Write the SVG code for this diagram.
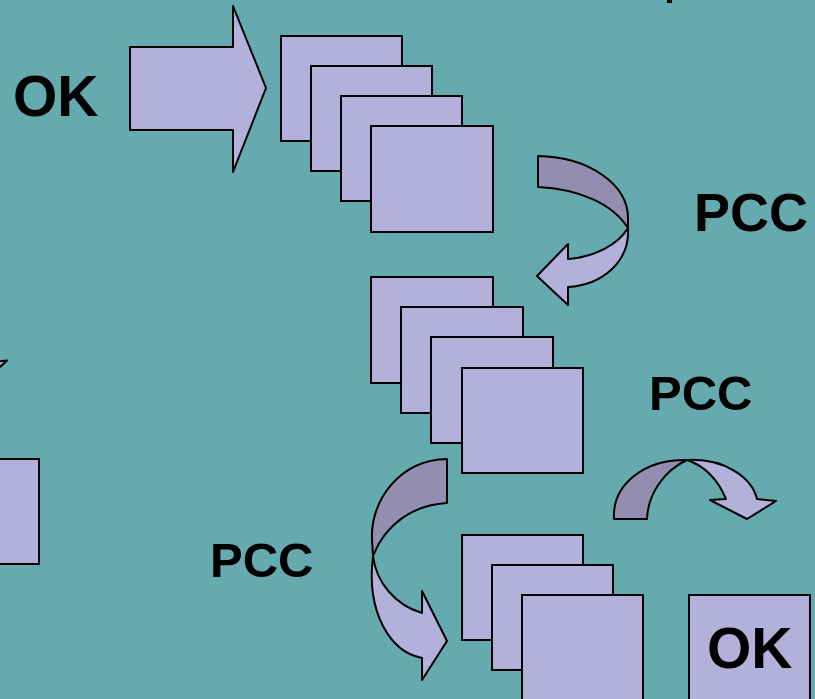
<svg xmlns="http://www.w3.org/2000/svg" width="815" height="699" viewBox="0 0 815 699">
  <style>
    .bg { fill: #65aaae; }
    .card { fill: #b3b1d9; stroke: #000; stroke-width: 2; }
    .front { fill: #b3b1d9; stroke: #000; stroke-width: 2; stroke-linejoin: round; }
    .back { fill: #938eb0; stroke: #000; stroke-width: 2; stroke-linejoin: round; }
    .lbl { font-family: "Liberation Sans", Arial, sans-serif; font-weight: bold; fill: #000; }
    .big { font-size: 57px; }
    .mid { font-size: 54px; }
    .small { font-size: 49px; }
  </style>
  <rect class="bg" x="0" y="0" width="815" height="699"/>

  <!-- fragment at the top edge -->
  <rect x="667" y="0" width="5" height="3" fill="#000"/>

  <g id="label-ok-start">
    <text class="lbl big" x="13" y="116">OK</text>
  </g>

  <g id="start-arrow">
    <polygon class="front" points="130,47 233,47 233,6 266,88 233,172 233,130 130,130"/>
  </g>

  <g id="stack-1">
    <rect class="card" x="281" y="36" width="121" height="105"/>
    <rect class="card" x="311" y="66" width="121" height="105"/>
    <rect class="card" x="341" y="96" width="121" height="105"/>
    <rect class="card" x="371" y="126" width="122" height="106"/>
  </g>

  <g id="stack-2">
    <rect class="card" x="371" y="277" width="122" height="106"/>
    <rect class="card" x="401" y="307" width="122" height="106"/>
    <rect class="card" x="431" y="337" width="122" height="106"/>
    <rect class="card" x="462" y="368" width="121" height="105"/>
  </g>

  <g id="stack-3">
    <rect class="card" x="462" y="535" width="121" height="105"/>
    <rect class="card" x="492" y="565" width="121" height="105"/>
    <rect class="card" x="522" y="595" width="121" height="110"/>
  </g>

  <g id="ok-box">
    <rect class="card" x="689" y="595" width="121" height="110"/>
    <text class="lbl big" x="707" y="668">OK</text>
  </g>

  <g id="left-box">
    <rect class="card" x="-10" y="459" width="49" height="105"/>
    <polygon class="front" points="-2,361.5 7,360.5 0,367"/>
  </g>

  <g id="labels">
    <text class="lbl mid" x="694" y="231">PCC</text>
    <text class="lbl small" x="649" y="410">PCC</text>
    <text class="lbl small" x="210" y="577">PCC</text>
  </g>

  <g id="connectors">
    <!-- stack 1 to stack 2: curls right, then back left -->
    <path class="front" d="M628,228 C630,262 602,285 568,287 L568,305 L537,276 L568,244 L568,259 C594,257 618,245 628,228 Z"/>
    <path class="back" d="M538,156 C590,157 628,185 628,218 L628,228 C612,203 578,189 538,187 Z"/>

    <!-- stack 2 to stack 3: curls left, then down to the right -->
    <path class="front" d="M373,556 C366,612 390,652 422,658 L422,680 L447,641 L422,591 L422,613 C395,605 376,582 373,556 Z"/>
    <path class="back" d="M447,459 C400,460 370,500 372,540 L373,556 C385,525 412,505 447,503 Z"/>

    <!-- stack 2 over to the OK box -->
    <path class="front" d="M687,460 C725,458 752,478 757,499 L776,501 L747,519 L710,500 L726,499 C718,480 705,466 687,460 Z"/>
    <path class="back" d="M614,519 C612,484 645,459 687,460 C665,470 648,493 647,519 Z"/>
  </g>
</svg>
